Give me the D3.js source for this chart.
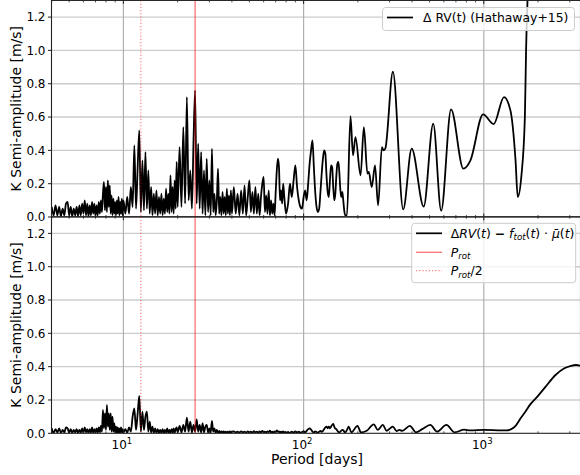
<!DOCTYPE html>
<html><head><meta charset="utf-8">
<script src="https://cdn.jsdelivr.net/npm/d3@7/dist/d3.min.js"></script>
<style>body{margin:0;background:#fff}svg{display:block}text{font-family:"DejaVu Sans",sans-serif;fill:#000}</style>
</head><body><svg id="chart" width="580" height="475"></svg>
<script>
// ---------- DATA ----------
// shared period grid (days) of the dense, short-period part of both periodograms
const periodsDense = [
  4.0,4.1,4.2,4.3,4.4,4.5,4.6,4.7,4.8,4.9,5.0,5.1,5.2,5.3,5.4,5.5,5.6,5.7,5.8,5.9,
  6.0,6.1,6.2,6.3,6.4,6.5,6.6,6.7,6.8,6.9,7.0,7.1,7.2,7.3,7.4,7.5,7.6,7.7,7.8,7.9,
  8.0,8.1,8.2,8.3,8.4,8.5,8.6,8.7,8.8,8.9,9.0,9.1,9.2,9.3,9.4,9.5,9.6,9.7,9.8,9.9,10.0,
  10.25,10.5,10.75,11,11.25,11.5,11.75,12,12.25,12.5,12.75,13,13.25,13.5,13.75,14,14.25,14.5,14.75,15,
  15.25,15.5,15.75,16,16.25,16.5,16.75,17,17.25,17.5,17.75,18,18.25,18.5,18.75,19,19.25,19.5,19.75,20,
  20.5,21,21.5,22,22.5,23,23.5,24,24.5,25,25.5,26,26.5,27,27.5,28,28.5,29,29.5,30,
  30.5,31,31.5,32,32.5,33,33.5,34,34.5,35,35.5,36,36.5,37,37.5,38,38.5,39,39.5,40,
  41,42,43,44,45,46,47,48,49,50,51,52,53,54,55,56,57,58,59,60,
  61,62,63,64,65,66,67,68,69,70,71,72,73,74,75,76,77,78,79,80,
  82,84,86,88,90,92,94,96,98,100,102,104,106,108,110,112,114,116,118,120,
  122,124,126,128,130,132,134,136,138,140,142,144,146,148,150,152,154,156,158,160,
  162,164,166,168,170
];
// Delta RV(t) (Hathaway+15), dense part [m/s]
const kRvDense = [
  0.06,0.01,0.07,0.01,0.06,0.005,0.05,0.01,0.08,0.09,0.01,0.06,0.005,0.05,0.01,0.06,0.005,0.07,0.01,0.08,
  0.02,0.10,0.01,0.08,0.005,0.07,0.01,0.09,0.02,0.08,0.005,0.07,0.01,0.09,0.02,0.10,0.03,0.14,0.21,0.04,
  0.18,0.03,0.22,0.06,0.19,0.02,0.13,0.01,0.11,0.02,0.09,0.01,0.10,0.02,0.12,0.01,0.09,0.02,0.11,0.01,0.10,
  0.02,0.12,0.02,0.18,0.06,0.43,0.05,0.30,0.52,0.03,0.34,0.04,0.39,0.05,0.28,0.02,0.18,0.01,0.14,0.02,
  0.16,0.01,0.12,0.02,0.14,0.01,0.11,0.02,0.17,0.03,0.14,0.02,0.25,0.03,0.18,0.02,0.22,0.05,0.33,0.06,
  0.42,0.06,0.54,0.08,0.72,0.10,0.28,0.05,0.46,0.76,0.08,0.44,0.05,0.39,0.02,0.28,0.01,0.35,0.03,0.22,
  0.01,0.41,0.03,0.14,0.01,0.10,0.29,0.02,0.12,0.01,0.15,0.02,0.12,0.01,0.17,0.02,0.13,0.01,0.16,0.02,
  0.18,0.02,0.14,0.01,0.16,0.02,0.19,0.01,0.12,0.22,0.03,0.15,0.02,0.18,0.02,0.14,0.01,0.12,0.20,0.24,
  0.03,0.13,0.02,0.16,0.01,0.10,0.02,0.08,0.01,0.15,0.28,0.35,0.30,0.10,0.16,0.08,0.20,0.13,0.06,0.02,
  0.08,0.20,0.12,0.22,0.31,0.18,0.10,0.06,0.05,0.12,0.16,0.10,0.20,0.32,0.40,0.46,0.30,0.15,0.06,0.03,
  0.05,0.15,0.26,0.35,0.40,0.38,0.25,0.15,0.12,0.22,0.31,0.30,0.18,0.10,0.14,0.25,0.32,0.33,0.26,0.16,
  0.12,0.15,0.10,0.04,0.01
];
// Delta RV(t) - f_tot(t)*mu(t), dense part [m/s]
const kCorrDense = [
  0.03,0.002,0.025,0.005,0.03,0.002,0.02,0.005,0.035,0.03,0.003,0.025,0.002,0.02,0.005,0.025,0.002,0.02,0.004,0.03,
  0.003,0.035,0.005,0.025,0.002,0.025,0.004,0.035,0.003,0.025,0.004,0.03,0.003,0.035,0.005,0.045,0.01,0.14,0.03,0.12,
  0.02,0.17,0.04,0.12,0.02,0.12,0.01,0.10,0.01,0.06,0.005,0.04,0.003,0.035,0.004,0.03,0.003,0.035,0.005,0.025,0.004,
  0.025,0.003,0.035,0.01,0.10,0.15,0.02,0.12,0.224,0.01,0.13,0.02,0.10,0.13,0.01,0.07,0.005,0.04,0.003,0.03,
  0.002,0.025,0.002,0.02,0.003,0.025,0.002,0.02,0.004,0.03,0.003,0.02,0.002,0.025,0.004,0.03,0.003,0.025,0.035,0.005,
  0.045,0.005,0.05,0.01,0.094,0.01,0.07,0.005,0.05,0.01,0.084,0.01,0.05,0.005,0.06,0.005,0.04,0.05,0.005,0.03,
  0.005,0.075,0.01,0.03,0.003,0.02,0.003,0.015,0.002,0.012,0.002,0.012,0.003,0.01,0.002,0.01,0.003,0.012,0.002,0.01,
  0.012,0.005,0.01,0.004,0.012,0.006,0.01,0.004,0.012,0.005,0.01,0.004,0.013,0.006,0.01,0.004,0.012,0.005,0.015,0.006,
  0.01,0.004,0.012,0.006,0.016,0.005,0.01,0.004,0.012,0.006,0.018,0.008,0.012,0.004,0.01,0.005,0.012,0.004,0.008,0.003,
  0.008,0.003,0.01,0.004,0.012,0.005,0.01,0.003,0.008,0.012,0.006,0.015,0.025,0.03,0.022,0.01,0.005,0.012,0.008,0.004,
  0.01,0.015,0.008,0.015,0.025,0.035,0.04,0.03,0.04,0.03,0.04,0.05,0.056,0.04,0.028,0.025,0.015,0.008,0.005,0.01,
  0.016,0.02,0.018,0.01,0.005
];
// long-period (smooth) parts
const periodsRvLong = [174,182,188,194,207,216,226,230,239,249,259,272,278,284,313,357,398,464,524,580,
  658,770,843,991,1135,1294,1405,1500,1543,1614,1690,1716,1800,2000,2500,3500];
const kRvLong = [0.01,0.606,0.37,0.48,0.25,0.54,0.26,0.27,0.18,0.31,0.07,0.42,0.40,0.41,0.872,0.046,0.41,0.062,0.56,0.038,
  0.646,0.29,0.34,0.616,0.558,0.72,0.64,0.34,0.12,0.24,0.6,1.0,1.6,2.6,3.5,4.0];
const periodsCorrLong = [174,178,184,199,208,224,245,258,275,289,313,328,340,352,389,420,455,505,550,620,
  690,778,843,1000,1200,1340,1420,1500,1600,1700,1816,1983,2203,2500,2800,3050,3250,3450];
const kCorrLong = [0.02,0.04,0.005,0.045,0.005,0.015,0.054,0.02,0.05,0.015,0.04,0.013,0.02,0.015,0.045,0.006,0.025,0.05,0.01,0.05,
  0.005,0.022,0.017,0.02,0.018,0.017,0.025,0.045,0.09,0.13,0.175,0.22,0.28,0.35,0.39,0.405,0.41,0.405];

const pRot = 25.0;
const yTickValues = [0.0,0.2,0.4,0.6,0.8,1.0,1.2];
const xMajorTicks = [10,100,1000];
const xMinorTicks = [4,5,6,7,8,9,20,30,40,50,60,70,80,90,200,300,400,500,600,700,800,900,2000,3000];
const legendTop = ["\u0394 RV(t) (Hathaway+15)"];

// ---------- CHART ----------
const svg = d3.select("#chart");
const x = d3.scaleLog().domain([3.99, 3440]).range([51.5, 580.5]);
const xL = 51.5, xR = 580.5;
const pxPerUnit = 166.6;
const panels = [
  {bottom:217, rv: true},
  {bottom:433.3, rv: false}
];
function mk(ps, ks){ return ps.map((p,i)=>({p, k:ks[i]})).filter(d=>d.k!==undefined); }
const seriesRv = mk(periodsDense, kRvDense).concat(mk(periodsRvLong, kRvLong));
const seriesCorr = mk(periodsDense, kCorrDense).concat(mk(periodsCorrLong, kCorrLong));

panels.forEach((pn, idx) => {
  const top = pn.bottom - 1.3*pxPerUnit;
  const y = d3.scaleLinear().domain([0,1.3]).range([pn.bottom, top]);
  const g = svg.append("g");
  const cid = "clip"+idx;
  svg.append("clipPath").attr("id",cid).append("rect")
    .attr("x",xL).attr("y",top).attr("width",xR-xL).attr("height",pn.bottom-top);
  // grid
  g.selectAll(".hg").data(yTickValues.filter(v=>v>0)).join("line")
    .attr("x1",xL).attr("x2",xR).attr("y1",d=>y(d)).attr("y2",d=>y(d))
    .attr("stroke","#cccccc").attr("stroke-width",1.4);
  g.selectAll(".vg").data(xMajorTicks).join("line")
    .attr("x1",d=>x(d)).attr("x2",d=>x(d)).attr("y1",top).attr("y2",pn.bottom)
    .attr("stroke","#b0b0b0").attr("stroke-width",1.2);
  // data
  const line = d3.line().x(d=>x(d.p)).y(d=>y(d.k)).curve(d3.curveMonotoneX);
  g.append("path").datum(pn.rv ? seriesRv : seriesCorr)
    .attr("clip-path",`url(#${cid})`)
    .attr("d",line).attr("fill","none").attr("stroke","#000").attr("stroke-width",1.8)
    .attr("stroke-linejoin","round");
  // rotation period lines
  g.append("line").attr("x1",x(pRot)).attr("x2",x(pRot)).attr("y1",top).attr("y2",pn.bottom)
    .attr("stroke","red").attr("stroke-opacity",0.6).attr("stroke-width",1.2);
  g.append("line").attr("x1",x(pRot/2)).attr("x2",x(pRot/2)).attr("y1",top).attr("y2",pn.bottom)
    .attr("stroke","red").attr("stroke-opacity",0.5).attr("stroke-width",1.2)
    .attr("stroke-dasharray","1.2,2");
  // y ticks & labels
  g.selectAll(".yt").data(yTickValues).join("line")
    .attr("x1",xL-3.5).attr("x2",xL).attr("y1",d=>y(d)).attr("y2",d=>y(d))
    .attr("stroke","#222").attr("stroke-width",1);
  g.selectAll(".yl").data(yTickValues).join("text")
    .attr("x",xL-6).attr("y",d=>y(d)).attr("dy","0.36em").attr("text-anchor","end")
    .attr("font-size","12px").text(d=>d3.format(".1f")(d));
  // x ticks (inward) on top and bottom spines
  [top, pn.bottom].forEach((yy, j) => {
    const dir = j===0 ? 1 : -1;
    g.selectAll(null).data(xMajorTicks).join("line")
      .attr("x1",d=>x(d)).attr("x2",d=>x(d)).attr("y1",yy).attr("y2",yy+dir*3.5)
      .attr("stroke","#222").attr("stroke-width",1);
    g.selectAll(null).data(xMinorTicks).join("line")
      .attr("x1",d=>x(d)).attr("x2",d=>x(d)).attr("y1",yy).attr("y2",yy+dir*2)
      .attr("stroke","#222").attr("stroke-width",0.8);
  });
  // y label
  svg.append("text").attr("transform",`translate(21,${(top+pn.bottom)/2}) rotate(-90)`)
    .attr("text-anchor","middle").attr("font-size","14px").text("K Semi-amplitude [m/s]");
  // spines
  g.append("rect").attr("x",xL).attr("y",top).attr("width",xR-xL).attr("height",pn.bottom-top)
    .attr("fill","none").attr("stroke","#222").attr("stroke-width",1.1);
});

// x tick labels (bottom panel)
const xl = svg.append("g");
xMajorTicks.forEach(v => {
  const t = xl.append("text").attr("x",x(v)-1.5).attr("y",448.5).attr("text-anchor","middle").attr("font-size","12px");
  t.append("tspan").text("10");
  t.append("tspan").attr("font-size","8.5px").attr("dy","-5").text(Math.round(Math.log10(v)));
});
svg.append("text").attr("x",(xL+xR)/2+1).attr("y",464).attr("text-anchor","middle")
  .attr("font-size","14px").text("Period [days]");

// legend top
{
  const g = svg.append("g");
  g.append("rect").attr("x",382.5).attr("y",7.5).attr("width",192).attr("height",23).attr("rx",3)
    .attr("fill","#fff").attr("fill-opacity",0.8).attr("stroke","#cccccc").attr("stroke-width",1);
  g.append("line").attr("x1",387).attr("x2",413).attr("y1",17.5).attr("y2",17.5).attr("stroke","#000").attr("stroke-width",1.7);
  g.append("text").attr("x",423).attr("y",22).attr("font-size","12.4px").text(legendTop[0]);
}
// legend bottom
{
  const g = svg.append("g");
  g.append("rect").attr("x",411.7).attr("y",223.3).attr("width",164).attr("height",59.4).attr("rx",3)
    .attr("fill","#fff").attr("fill-opacity",0.8).attr("stroke","#cccccc").attr("stroke-width",1);
  const rows = [233.3, 252.3, 270.7];
  g.append("line").attr("x1",416).attr("x2",442).attr("y1",rows[0]).attr("y2",rows[0]).attr("stroke","#000").attr("stroke-width",1.7);
  g.append("line").attr("x1",416).attr("x2",442).attr("y1",rows[1]).attr("y2",rows[1]).attr("stroke","red").attr("stroke-opacity",0.6).attr("stroke-width",1.2);
  g.append("line").attr("x1",416).attr("x2",442).attr("y1",rows[2]).attr("y2",rows[2]).attr("stroke","red").attr("stroke-opacity",0.5).attr("stroke-width",1.2).attr("stroke-dasharray","1.2,2");
  const fs = 12.4;
  const t1 = g.append("text").attr("x",450.7).attr("y",rows[0]+4.5).attr("font-size",fs+"px");
  const parts = [["\u0394",0],["RV",1],["(",0],["t",1],[") ",0],["\u2212",4],[" ",0],["f",1],["tot",2],["(",3],["t",1],[") \u00b7 ",0],["\u03bc\u0304",1],["(",0],["t",1],[")",0]];
  parts.forEach(([s,st])=>{
    const ts = t1.append("tspan").text(s);
    if (st===1) ts.attr("font-style","italic");
    if (st===2) ts.attr("font-style","italic").attr("font-size","8.7px").attr("dy","2.5");
    if (st===3) ts.attr("dy","-2.5");
    if (st===4) ts.attr("font-weight","bold");
  });
  [[rows[1],""],[rows[2],"/2"]].forEach(([yy,suf])=>{
    const t = g.append("text").attr("x",450.7).attr("y",yy+4.5).attr("font-size",fs+"px");
    t.append("tspan").attr("font-style","italic").text("P");
    t.append("tspan").attr("font-style","italic").attr("font-size","8.7px").attr("dy","2.5").text("rot");
    if (suf) t.append("tspan").attr("dy","-2.5").text(suf);
  });
}
</script></body></html>
